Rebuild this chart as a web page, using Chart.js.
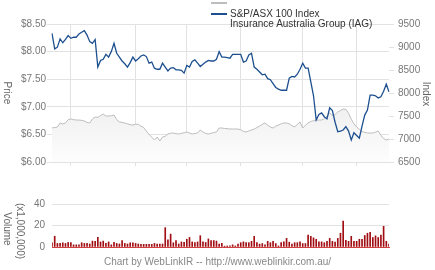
<!DOCTYPE html>
<html>
<head>
<meta charset="utf-8">
<script src="https://cdn.jsdelivr.net/npm/chart.js@4.4.1/dist/chart.umd.min.js"></script>
<style>
    html, body { margin: 0; padding: 0; background: #fff; }
    #wrap {
        position: relative;
        width: 435px;
        height: 270px;
        overflow: hidden;
        font-family: Arial, "Liberation Sans", sans-serif;
    }
    #priceChart { position: absolute; left: 0; top: 0; }
    #volumeChart { position: absolute; left: 0; top: 190px; }
    .axis-title {
        position: absolute;
        writing-mode: vertical-rl;
        font-size: 10px;
        line-height: 12px;
        color: #666;
        white-space: nowrap;
        transform: translate(-50%, -50%);
    }
    .swatch { position: absolute; width: 16px; height: 2px; }
    .legend-text {
        position: absolute;
        font-size: 10px;
        line-height: 12px;
        color: #333;
        white-space: nowrap;
    }
    #footer {
        position: absolute;
        left: 0;
        width: 435px;
        top: 256px;
        text-align: center;
        font-size: 10px;
        line-height: 12px;
        color: #888;
    }
</style>
</head>
<body>
<div id="wrap">
    <canvas id="priceChart" width="435" height="175"></canvas>
    <canvas id="volumeChart" width="435" height="70"></canvas>

    <div class="swatch" style="left:211px; top:2px; background:#bdbdbd;"></div>
    <div class="swatch" style="left:211px; top:13px; background:#1d4f8f;"></div>
    <div class="legend-text" id="legendIndex" style="left:230px; top:8px;"></div>
    <div class="legend-text" id="legendStock" style="left:230px; top:18px;"></div>

    <div class="axis-title" style="left:7px; top:93px;">Price</div>
    <div class="axis-title" style="left:426px; top:94px;">Index</div>
    <div class="axis-title" style="left:7px; top:229px;">Volume</div>
    <div class="axis-title" style="left:20px; top:231px;">(x1,000,000)</div>

    <div id="footer">Chart by WebLinkIR -- http://www.weblinkir.com.au/</div>
</div>

<script>
// trading days shown on the chart (dates are not readable in the picture)
const days = Array.from({ length: 126 }, (_, i) => "Day " + (i + 1));

const stockName = "Insurance Australia Group (IAG)";
const indexName = "S&P/ASX 100 Index";

// IAG close, $
const iagPrice = [
    8.33, 8.05, 8.08, 8.23, 8.16, 8.22, 8.29, 8.24, 8.26, 8.26,
    8.32, 8.35, 8.38, 8.30, 8.18, 8.15, 8.22, 7.72, 7.84, 7.86,
    7.95, 7.90, 8.00, 8.15, 7.97, 7.90, 7.83, 7.78, 7.72, 7.80,
    7.90, 7.83, 7.87, 7.92, 7.94, 7.91, 7.79, 7.81, 7.70, 7.68,
    7.68, 7.79, 7.72, 7.65, 7.70, 7.71, 7.67, 7.67, 7.66, 7.61,
    7.75, 7.72, 7.82, 7.85, 7.79, 7.73, 7.77, 7.81, 7.84, 7.83,
    7.83, 7.86, 8.00, 7.90, 7.90, 7.89, 7.88, 7.95, 7.95, 7.95,
    7.95, 7.81, 7.83, 7.94, 7.97, 7.72, 7.68, 7.63, 7.58, 7.59,
    7.51, 7.49, 7.42, 7.35, 7.32, 7.30, 7.30, 7.30, 7.52, 7.55,
    7.54, 7.59, 7.68, 7.79, 7.70, 7.70, 7.45, 7.20, 6.76, 6.86,
    6.89, 6.82, 6.78, 6.98, 6.93, 6.72, 6.55, 6.56, 6.58, 6.64,
    6.56, 6.40, 6.53, 6.48, 6.43, 6.65, 6.85, 6.94, 7.21, 7.21,
    7.20, 7.16, 7.18, 7.28, 7.41, 7.27
];

// S&P/ASX 100 index level
const asxIndex = [
    7240, 7250, 7260, 7348, 7326, 7350, 7420, 7435, 7420, 7413,
    7412, 7405, 7391, 7360, 7348, 7435, 7478, 7470, 7510, 7543,
    7500, 7500, 7505, 7521, 7420, 7370, 7360, 7348, 7330, 7310,
    7304, 7320, 7320, 7280, 7250, 7170, 7100, 7040, 6978, 7043,
    6957, 7043, 7060, 7109, 7125, 7130, 7115, 7109, 7125, 7135,
    7152, 7130, 7109, 7120, 7130, 7196, 7152, 7120, 7109, 7125,
    7140, 7152, 7239, 7239, 7230, 7225, 7217, 7217, 7217, 7217,
    7200, 7165, 7152, 7175, 7196, 7215, 7250, 7280, 7320, 7348,
    7300, 7260, 7239, 7280, 7304, 7330, 7348, 7348, 7330, 7290,
    7260, 7320, 7370, 7239, 7300, 7348, 7380, 7400, 7413, 7413,
    7413, 7440, 7500, 7565, 7510, 7530, 7587, 7620, 7652, 7645,
    7560, 7430, 7330, 7260, 7210, 7160, 7145, 7130, 7130, 7130,
    7150, 7174, 7080, 7010, 6978, 7000
];

// IAG volume, millions of shares
const volume = [
    3.9, 10, 3.3, 3.3, 3.9, 3.3, 4.2, 4.2, 2, 2,
    2, 4, 3.3, 3.3, 2.8, 5.5, 5.3, 8.9, 4.7, 5.5,
    3.3, 4.7, 2, 4.4, 3.3, 2.8, 6, 3.3, 2.8, 3.9,
    3.9, 3.3, 2.8, 2.5, 2.5, 2.5, 2.5, 2.5, 3.3, 2.8,
    2.8, 2.8, 18, 6.7, 12, 3.9, 6, 2.8, 4.7, 4.4,
    7.2, 8.9, 4.7, 4.2, 4.7, 10.5, 4.7, 4.2, 7.5, 6,
    6, 5.5, 2.8, 3.3, 0.8, 1, 1, 2, 1, 2.7,
    4, 4.8, 4, 4, 5.3, 9.9, 4, 2.7, 3.2, 2,
    5.3, 4, 5.3, 3.2, 1, 4, 4.8, 8, 4.5, 2.7,
    4, 4, 4.8, 3.2, 3.2, 11.2, 9.9, 8.5, 7.2, 4.8,
    4.8, 4, 5.3, 8, 5.3, 4.5, 8, 12.8, 24, 6.1,
    5.3, 9.9, 5.3, 5.3, 7.2, 7.2, 10.7, 12.8, 13.6, 8.8,
    10.4, 8.8, 11.2, 19.2, 5.3, 2.7
];

const priceTicks = [6.0, 6.5, 7.0, 7.5, 8.0, 8.5];
const indexTicks = [6500, 7000, 7500, 8000, 8500, 9000, 9500];
const volumeTicks = [0, 20, 40];
const monthLines = [7, 31, 50, 70, 93, 113];

document.getElementById("legendIndex").textContent = indexName;
document.getElementById("legendStock").textContent = stockName;

Chart.defaults.font.family = 'Arial, "Liberation Sans", sans-serif';
Chart.defaults.font.size = 10;
Chart.defaults.color = "#777";

const gridColor = "#e2e2e2";

const fixedTicks = (values) => (scale) => {
    scale.ticks = values.map((v) => ({ value: v }));
};

const indexFill = (context) => {
    const { chart } = context;
    const area = chart.chartArea;
    if (!area) {
        return "#f2f2f2";
    }
    const g = chart.ctx.createLinearGradient(0, area.top + 80, 0, area.bottom);
    g.addColorStop(0, "#efefef");
    g.addColorStop(1, "#fdfdfd");
    return g;
};

new Chart(document.getElementById("priceChart"), {
    type: "line",
    data: {
        labels: days,
        datasets: [
            {
                label: stockName,
                data: iagPrice,
                yAxisID: "y",
                borderColor: "#1d4f8f",
                borderWidth: 1.3,
                pointRadius: 0,
                tension: 0,
                order: 1,
            },
            {
                label: indexName,
                data: asxIndex,
                yAxisID: "y1",
                borderColor: "#bdbdbd",
                borderWidth: 1,
                pointRadius: 0,
                tension: 0,
                fill: "start",
                backgroundColor: indexFill,
                order: 2,
            },
        ],
    },
    options: {
        responsive: false,
        animation: false,
        devicePixelRatio: 1,
        layout: { padding: { top: 24, left: 0, right: 0, bottom: 0 } },
        plugins: {
            legend: { display: false },
            tooltip: { enabled: false },
        },
        scales: {
            x: {
                offset: false,
                afterBuildTicks: fixedTicks(monthLines),
                ticks: { display: false },
                grid: { color: gridColor, tickLength: 4 },
                border: { display: false },
                afterFit: (s) => { s.height = 13; },
            },
            y: {
                position: "left",
                min: 6,
                max: 8.5,
                afterBuildTicks: fixedTicks(priceTicks),
                ticks: {
                    padding: 1,
                    callback: (v) => "$" + Number(v).toFixed(2),
                },
                grid: { color: gridColor, tickLength: 5 },
                border: { display: false },
                afterFit: (s) => { s.width = 52; },
            },
            y1: {
                position: "right",
                min: 6500,
                max: 9500,
                afterBuildTicks: fixedTicks(indexTicks),
                ticks: {
                    padding: 4,
                    callback: (v) => String(v),
                },
                grid: { drawOnChartArea: false, color: gridColor, tickLength: 5 },
                border: { display: false },
                afterFit: (s) => { s.width = 46; },
            },
        },
    },
});

new Chart(document.getElementById("volumeChart"), {
    type: "bar",
    data: {
        labels: days,
        datasets: [
            {
                label: "Volume",
                data: volume,
                backgroundColor: "#a00d12",
                barThickness: 1,
            },
        ],
    },
    options: {
        responsive: false,
        animation: false,
        devicePixelRatio: 1,
        layout: { padding: { top: 14, left: 0, right: 46, bottom: 0 } },
        plugins: {
            legend: { display: false },
            tooltip: { enabled: false },
        },
        scales: {
            x: {
                offset: false,
                ticks: { display: false },
                grid: { display: false },
                border: { display: true, color: "#d04040", dash: [1, 2], width: 1 },
                afterFit: (s) => { s.height = 6; },
            },
            y: {
                min: 0,
                max: 40,
                afterBuildTicks: fixedTicks(volumeTicks),
                ticks: { padding: 7 },
                grid: {
                    drawTicks: false,
                    color: (ctx) => (ctx.tick && ctx.tick.value === 0 ? "rgba(0,0,0,0)" : gridColor),
                },
                border: { display: false },
                afterFit: (s) => { s.width = 52; },
            },
        },
    },
});
</script>
</body>
</html>
